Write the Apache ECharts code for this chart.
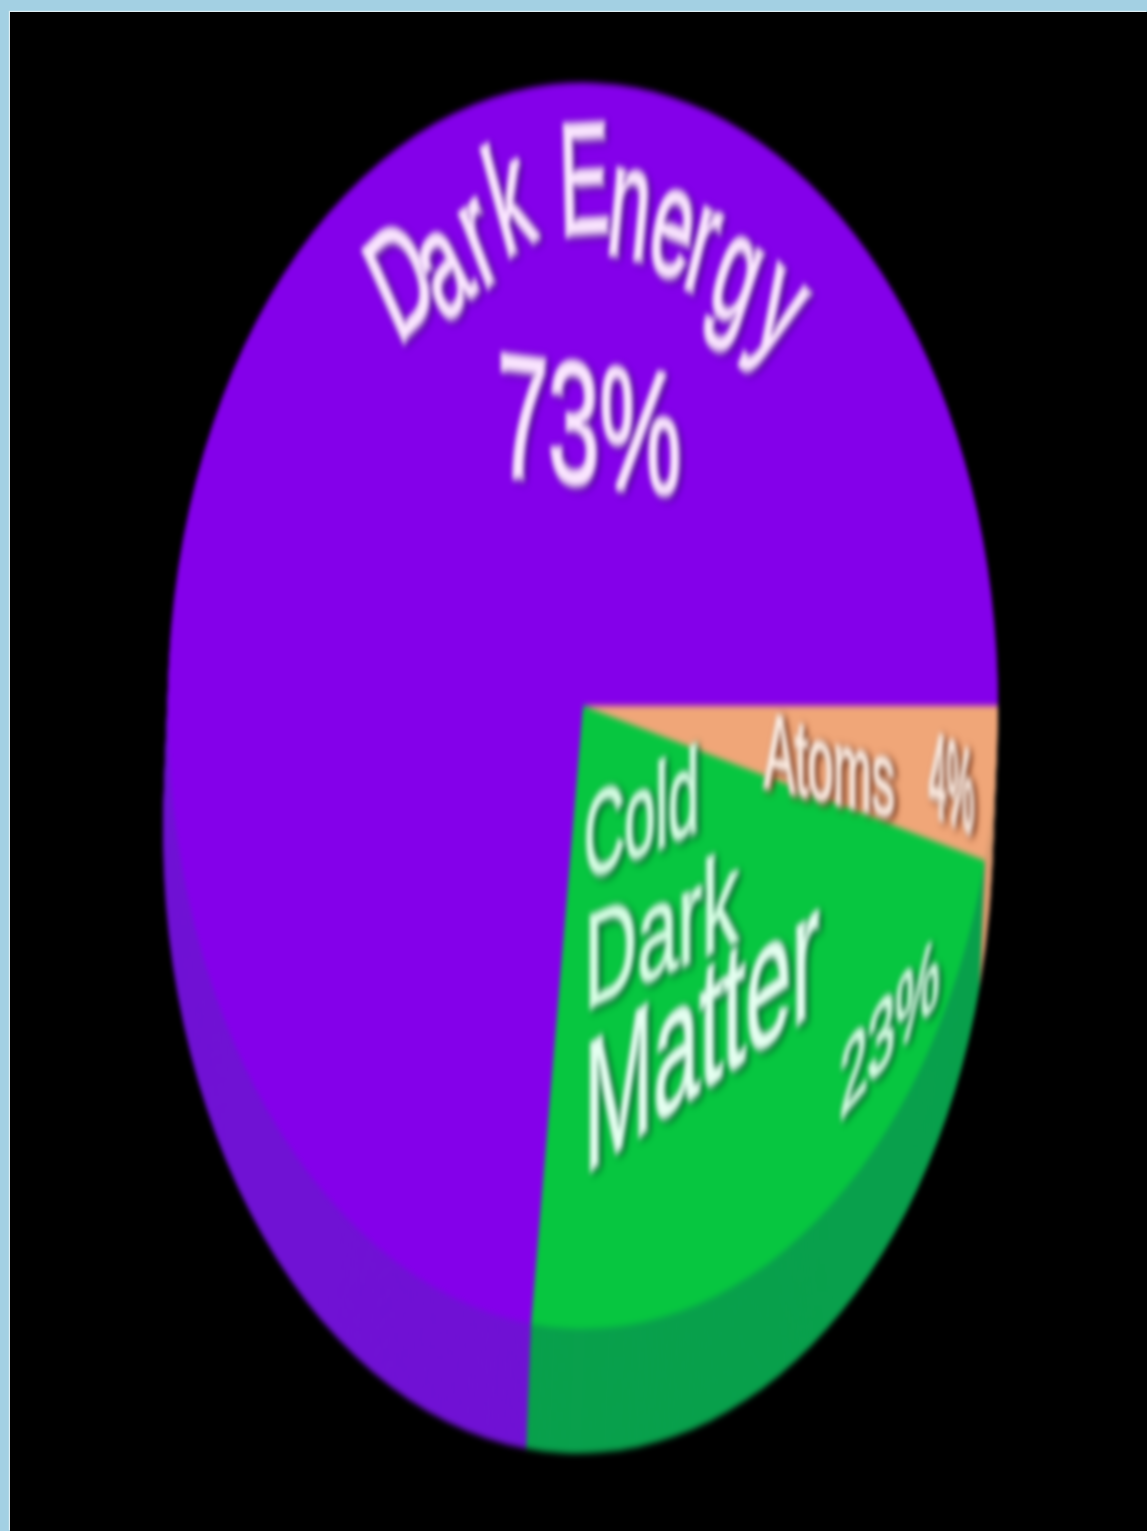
<!DOCTYPE html>
<html><head><meta charset="utf-8">
<script src="https://cdn.jsdelivr.net/npm/echarts@6/dist/echarts.min.js"></script>
<style>
html,body{margin:0;padding:0;background:#a3d0e3;width:1147px;height:1531px;overflow:hidden}
#panel{position:absolute;left:10px;top:12px;right:0;bottom:0;background:#000;box-shadow:-1px -1px 1px #dfeef3}
#c{position:absolute;left:0;top:0;width:1147px;height:1020.67px;transform:scaleY(1.5);transform-origin:0 0;filter:blur(2.2px)}
</style></head><body>
<div id="panel"></div><div id="c"></div>
<script>
const categories = ['Atoms', 'Cold Dark Matter', 'Dark Energy'];
const shares = [4, 23, 73];
const faceColors = ['#f0a678', '#07c640', '#8400ea'];
const sideColors = ['#d99a70', '#09a04c', '#7012d4'];
const titleLetters = ['D','a','r','k','E','n','e','r','g','y'];
const otherLabels = ['73%', 'Cold', 'Dark', 'Matter', '23%', 'Atoms', '4%'];

// label layout: page position, font size, rotation, extra vertical stretch, baseline slope
const titleLayout = [
 [405,287,34],[445,273,36],[480,243,30],[512,207,22],[585,190,2],[630,213,-8],[673,233,-15],[703,250,-20],[737,280,-26],[780,313,-32]
];
const otherLayout = [
 {x:590,y:437,fs:92,sy:1.25,slope:0.08,fill:'#fbe6ff',shadow:'#4a0090'},
 {x:642,y:822,fs:56,sy:1.4,slope:-0.3,fill:'#d6ffe4',shadow:'#005a28'},
 {x:662,y:938,fs:73,sy:1.2,slope:-0.3,fill:'#d6ffe4',shadow:'#005a28'},
 {x:702,y:1040,fs:83,sy:1.45,slope:-0.47,fill:'#e4fff0',shadow:'#005a28'},
 {x:890,y:1032,fs:50,sy:1.3,slope:-0.8,fill:'#d6ffe4',shadow:'#005a28'},
 {x:830,y:772,fs:46,sy:1.5,slope:0.16,fill:'#fff0e6',shadow:'#6a2a10'},
 {x:952,y:790,fs:31,sy:2.4,slope:0.33,fill:'#fff0e6',shadow:'#6a2a10'}
];
const STRETCH = 1.5, CX = 583, CY = 705 / STRETCH, R = 415, DEPTH = 83, STEP = 3;

function pieLayer(colors, dx, dy) {
  return {
    type: 'pie', silent: true, animation: false, startAngle: 0, clockwise: true,
    radius: [0, R], center: [CX + dx, CY + dy], avoidLabelOverlap: false,
    label: {show: false}, labelLine: {show: false},
    data: categories.map((n, i) => ({name: n, value: shares[i], itemStyle: {color: colors[i]}}))
  };
}
const series = [];
for (let d = DEPTH; d > 0; d -= STEP) series.push(pieLayer(sideColors, -5 * d / DEPTH, d));
series.push(pieLayer(faceColors, 0, 0));

function txt(text, x, y, fs, rot, sy, slope, fill, shadow, lw) {
  return {type: 'text', z: 100, silent: true, x: x, y: y / STRETCH, rotation: rot * Math.PI / 180, scaleY: sy,
    skewY: Math.atan(-slope),
    style: {text: text, fontFamily: 'Liberation Sans', fontSize: fs, fill: fill, stroke: fill, lineWidth: lw, align: 'center', verticalAlign: 'middle',
      textShadowColor: shadow, textShadowBlur: 4, textShadowOffsetX: 2, textShadowOffsetY: 1}};
}
const graphics = [];
titleLetters.forEach((l, i) => { const t = titleLayout[i]; graphics.push(txt(l, t[0], t[1], 74, t[2], 1.4, 0, '#fbe6ff', '#4a0090', 4)); });
otherLabels.forEach((l, i) => { const t = otherLayout[i]; graphics.push(txt(l, t.x, t.y, t.fs, 0, t.sy, t.slope, t.fill, t.shadow, i === 0 ? 4 : 3)); });

const chart = echarts.init(document.getElementById('c'), null, {renderer: 'canvas', width: 1147, height: 1020.67});
chart.setOption({animation: false, backgroundColor: 'transparent', series: series, graphic: {elements: graphics}});
</script></body></html>
